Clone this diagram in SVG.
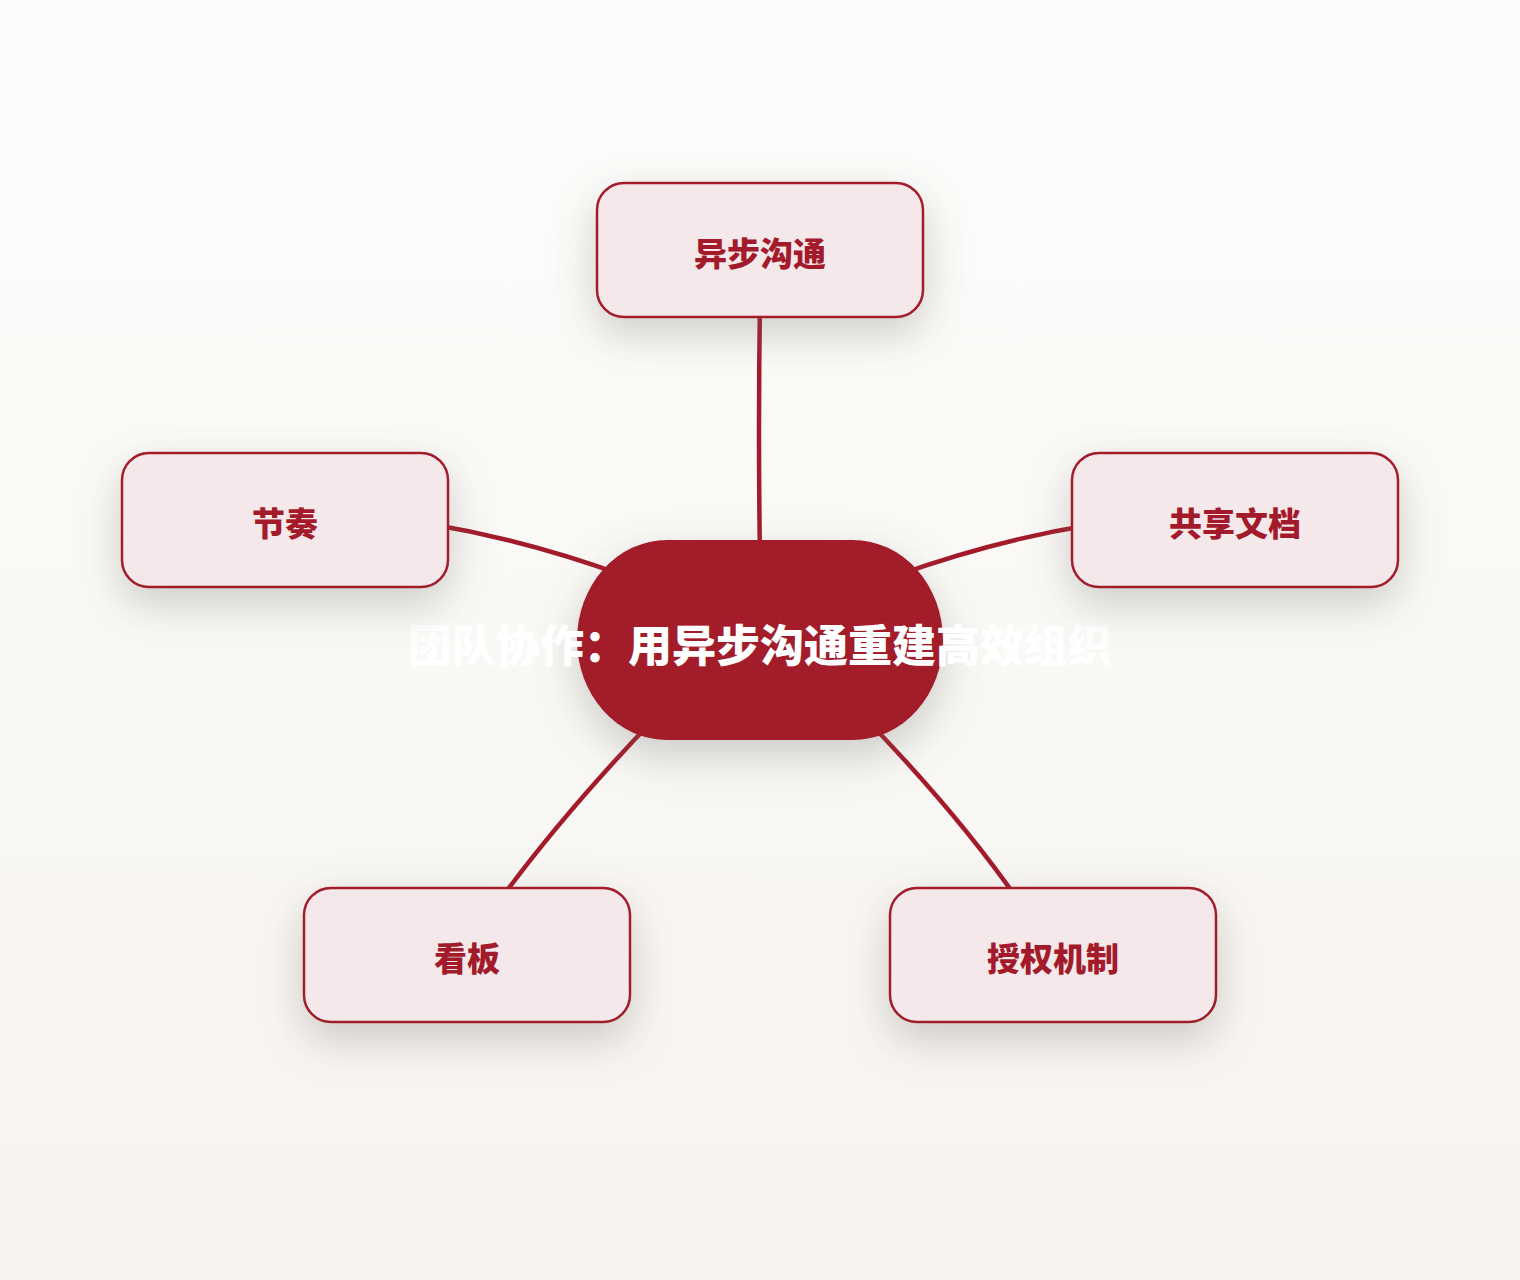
<svg xmlns="http://www.w3.org/2000/svg" width="1520" height="1280" viewBox="0 0 1520 1280">
<defs>
<linearGradient id="bg" x1="0" y1="0" x2="0" y2="1">
<stop offset="0" stop-color="#FDFDFC"/>
<stop offset="1" stop-color="#F7F4EF"/>
</linearGradient>
<filter id="shadow" x="-40%" y="-60%" width="180%" height="230%">
<feDropShadow dx="0" dy="16" stdDeviation="22" flood-color="#6b6a60" flood-opacity="0.32"/>
</filter>
<style>
.conn{fill:none;stroke:#A31A2A;stroke-width:4.5;stroke-linecap:round}
.box{fill:#F4E8EA;stroke:#A31A2A;stroke-width:2.5;filter:url(#shadow)}
.lbl{font-family:"Noto Sans CJK SC","Noto Sans",sans-serif;font-weight:900;font-size:33px;fill:#A31A2A;text-anchor:middle;dominant-baseline:central}
.hub{fill:#A31A2A;filter:url(#shadow)}
.hubtxt{font-family:"Noto Sans CJK SC","Noto Sans",sans-serif;font-weight:900;font-size:44px;fill:#FFFFFF;text-anchor:middle;dominant-baseline:central}
</style>
</defs>
<rect x="0" y="0" width="1520" height="1280" fill="url(#bg)"/>
<g id="connectors">
<path class="conn" d="M760,300 Q758,430 760,560"/>
<path class="conn" d="M430,524 Q526,540 625,576"/>
<path class="conn" d="M1090,525 Q996,540 895,576"/>
<path class="conn" d="M500,900 Q563,814 655,718"/>
<path class="conn" d="M1018,900 Q958,814 865,718"/>
</g>
<g id="node-center">
<rect class="hub" x="577" y="540" width="366" height="200" rx="90" ry="100"/>
<text class="hubtxt" x="760" y="643">团队协作：用异步沟通重建高效组织</text>
</g>
<g id="node-async">
<rect class="box" x="597" y="183" width="326" height="134" rx="27"/>
<text class="lbl" x="760" y="252">异步沟通</text>
</g>
<g id="node-rhythm">
<rect class="box" x="122" y="453" width="326" height="134" rx="27"/>
<text class="lbl" x="285" y="522">节奏</text>
</g>
<g id="node-docs">
<rect class="box" x="1072" y="453" width="326" height="134" rx="27"/>
<text class="lbl" x="1235" y="522">共享文档</text>
</g>
<g id="node-kanban">
<rect class="box" x="304" y="888" width="326" height="134" rx="27"/>
<text class="lbl" x="467" y="957">看板</text>
</g>
<g id="node-auth">
<rect class="box" x="890" y="888" width="326" height="134" rx="27"/>
<text class="lbl" x="1053" y="957">授权机制</text>
</g>
</svg>
